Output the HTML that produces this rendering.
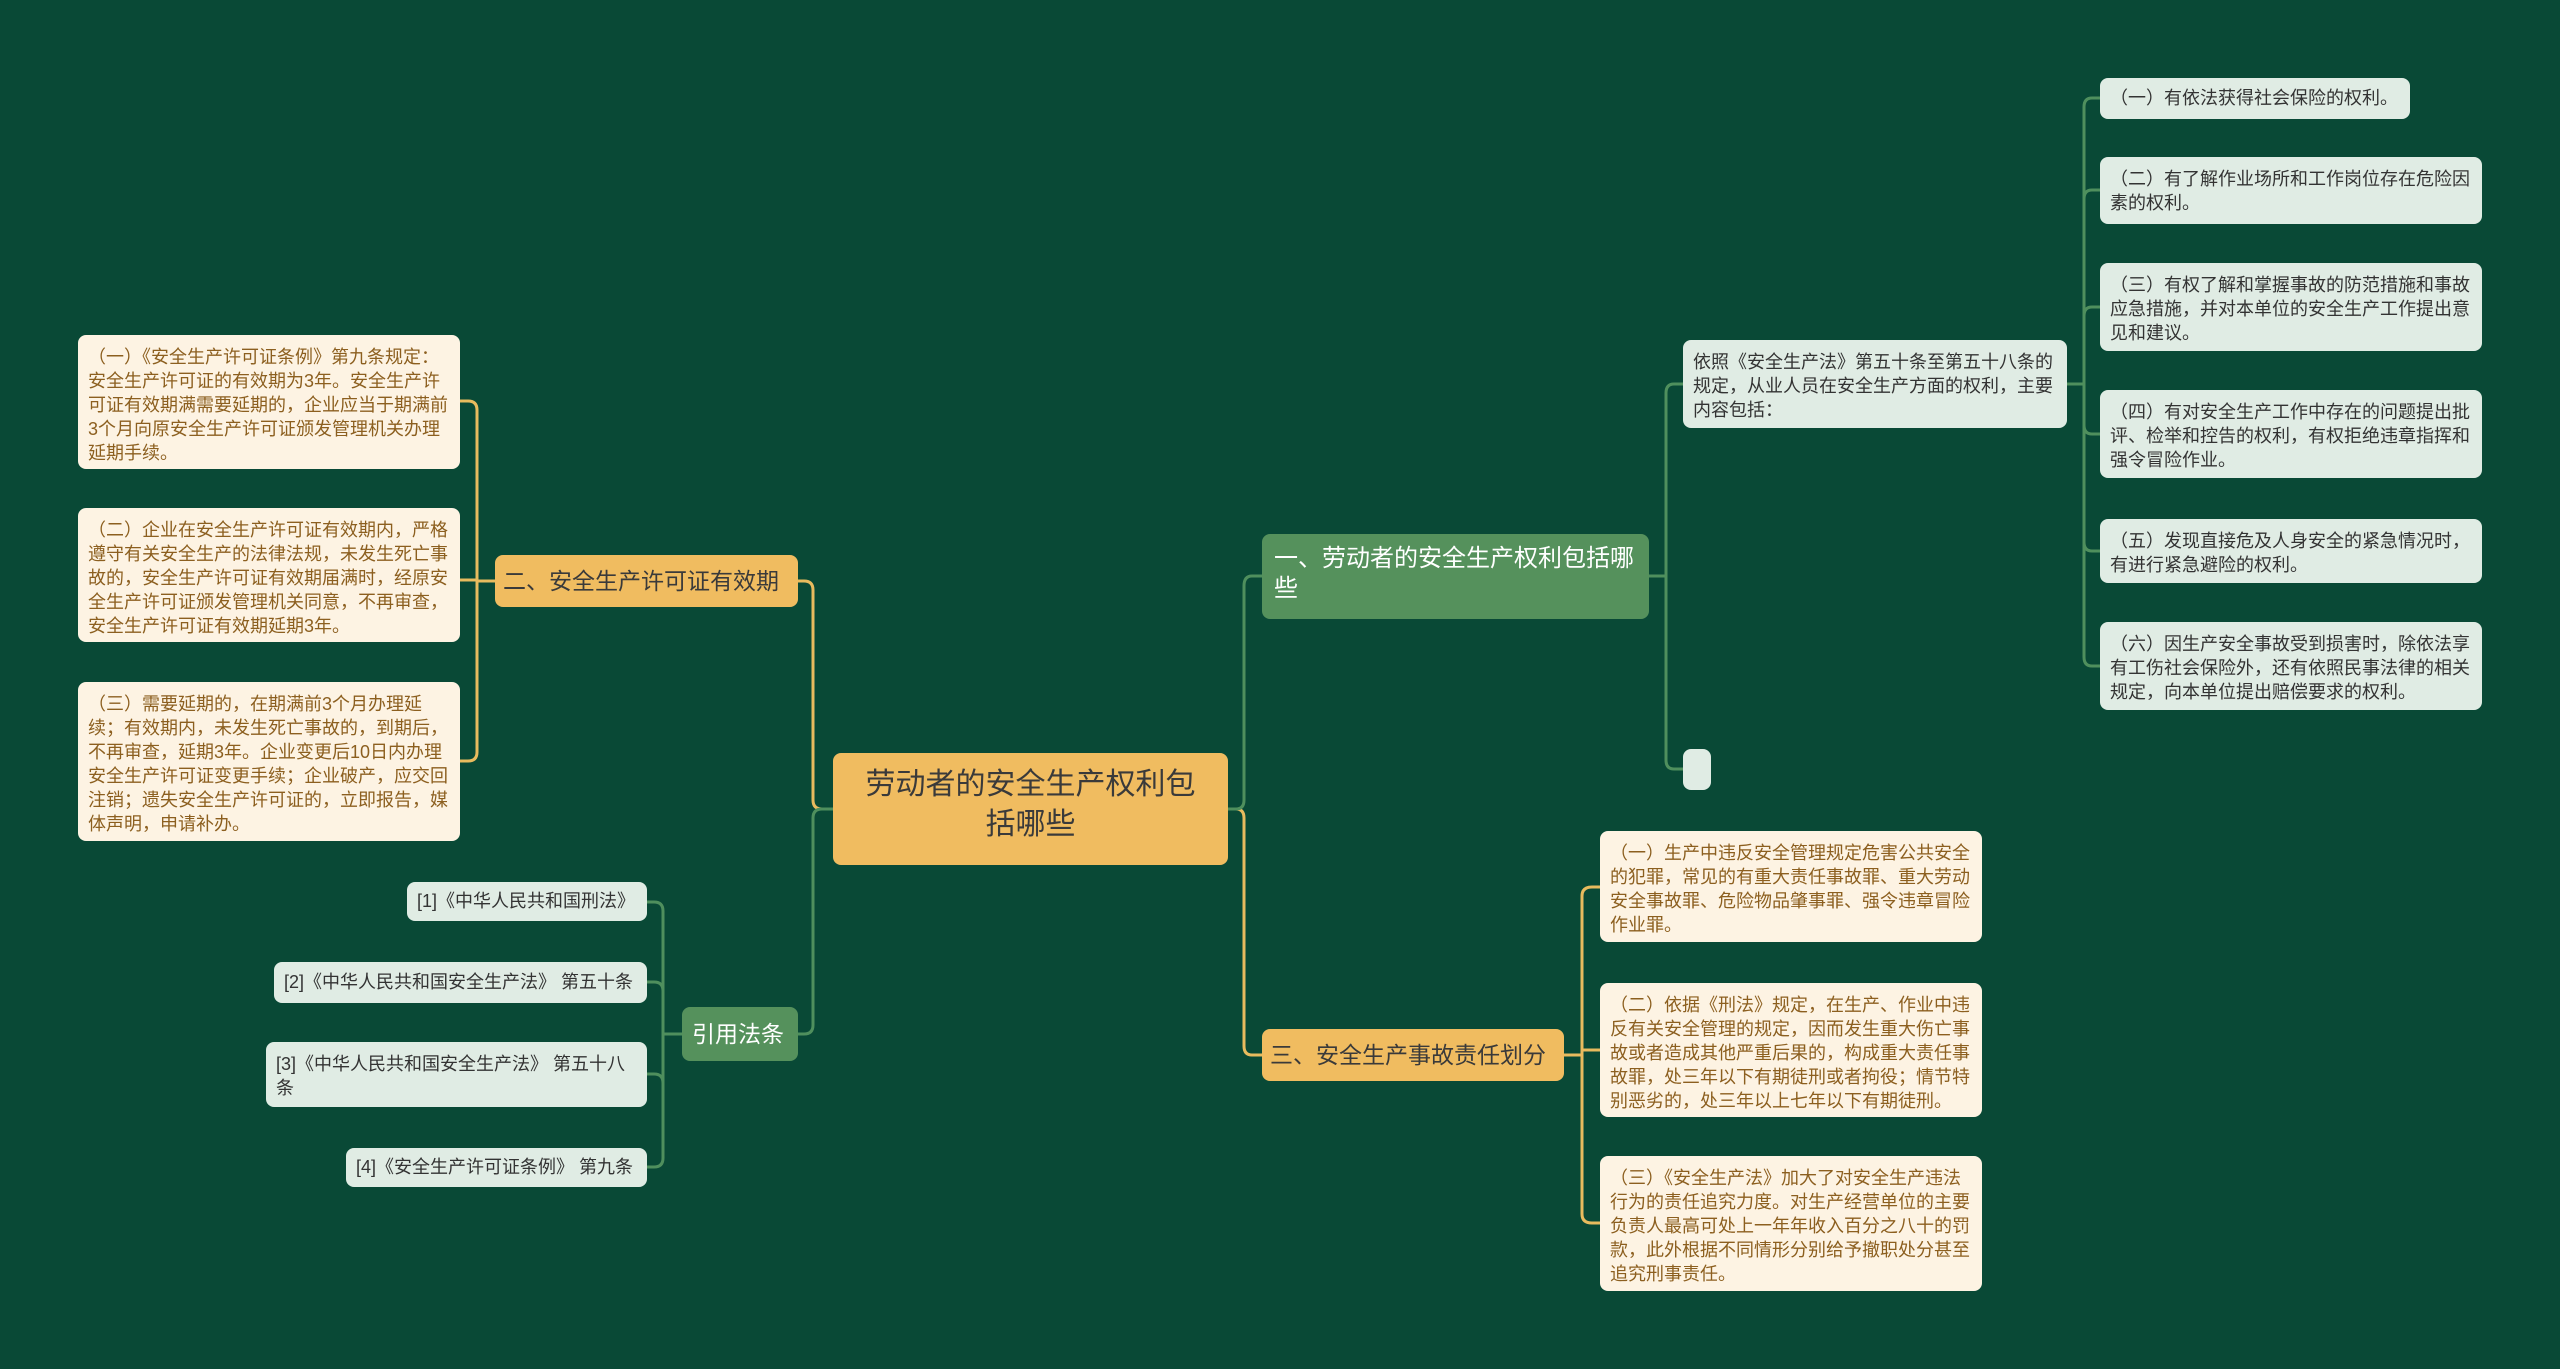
<!DOCTYPE html>
<html><head><meta charset="utf-8"><style>
body{margin:0;width:2560px;height:1369px;background:#094936;overflow:hidden;position:relative;font-family:"Liberation Sans","Noto Sans CJK SC",sans-serif}
.n{position:absolute;box-sizing:border-box;border-radius:8px;word-break:break-all}
.lf{font-size:18px;line-height:24px;padding:10px 10px}
.y{background:#fdf3e3;color:#8c5f1f}
.g{background:#e0ece4;color:#333}
.by{background:#f0bc60;color:#3a3a3a;font-size:24px;line-height:30px;padding:10px 12px}
.bg{background:#55915c;color:#fff;font-size:24px;line-height:30px;padding:10px 12px}
.nw{white-space:nowrap;padding:11px 8px;font-size:23px}
svg{position:absolute;left:0;top:0}
</style></head><body>
<svg width="2560" height="1369" fill="none" stroke-width="3">
<g stroke="#e8bb5e">
<path d="M1228 809 H1236 Q1244 809 1244 818 V1046 Q1244 1055 1252 1055 H1262"/>
<path d="M833 809 H822 Q813 809 813 800 V590 Q813 581 804 581 H798"/>
<path d="M1564 1055 H1582 M1582 1055 V896 Q1582 887 1592 887 H1600 M1582 1050 Q1582 1050 1592 1050 H1600 M1582 1055 V1214 Q1582 1223 1592 1223 H1600"/>
<path d="M495 581 H477 M477 581 V410 Q477 401 468 401 H460 M477 580 H460 M477 581 V752 Q477 761 468 761 H460"/>
</g>
<g stroke="#4f8f5d">
<path d="M1228 809 H1236 Q1244 809 1244 800 V586 Q1244 576 1252 576 H1262"/>
<path d="M833 809 H822 Q813 809 813 818 V1025 Q813 1034 804 1034 H798"/>
<path d="M1649 576 H1666 M1666 576 V393 Q1666 384 1674 384 H1683 M1666 576 V760 Q1666 769 1674 769 H1683"/>
<path d="M2067 384 H2084 M2084 384 V107 Q2084 98 2092 98 H2100 M2084 384 V199 Q2084 190 2092 190 H2100 M2084 384 V316 Q2084 307 2092 307 H2100 M2084 384 V425 Q2084 434 2092 434 H2100 M2084 384 V542 Q2084 551 2092 551 H2100 M2084 384 V657 Q2084 666 2092 666 H2100"/>
<path d="M682 1034 H663 M663 1034 V911 Q663 902 654 902 H647 M663 1034 V991 Q663 982 654 982 H647 M663 1034 V1083 Q663 1074 654 1074 H647 M663 1034 V1158 Q663 1167 654 1167 H647"/>
</g>
</svg>
<div class="n by" style="left:833px;top:753px;width:395px;height:112px;font-size:30px;line-height:40px;text-align:center;padding:12px 20px">劳动者的安全生产权利包括哪些</div>
<div class="n bg" style="left:1262px;top:534px;width:387px;height:85px">一、劳动者的安全生产权利包括哪些</div>
<div class="n by nw" style="left:1262px;top:1029px;width:302px;height:52px">三、安全生产事故责任划分</div>
<div class="n by nw" style="left:495px;top:555px;width:303px;height:52px">二、安全生产许可证有效期</div>
<div class="n bg nw" style="left:682px;top:1007px;width:116px;height:54px;padding:12px 10px">引用法条</div>
<div class="n lf g" style="left:1683px;top:340px;width:384px;height:88px">依照《安全生产法》第五十条至第五十八条的规定，从业人员在安全生产方面的权利，主要内容包括：</div>
<div class="n g" style="left:1683px;top:749px;width:28px;height:41px"></div>
<div class="n lf g" style="left:2100px;top:78px;width:310px;height:41px;padding-top:8px">（一）有依法获得社会保险的权利。</div>
<div class="n lf g" style="left:2100px;top:157px;width:382px;height:67px">（二）有了解作业场所和工作岗位存在危险因素的权利。</div>
<div class="n lf g" style="left:2100px;top:263px;width:382px;height:88px">（三）有权了解和掌握事故的防范措施和事故应急措施，并对本单位的安全生产工作提出意见和建议。</div>
<div class="n lf g" style="left:2100px;top:390px;width:382px;height:88px">（四）有对安全生产工作中存在的问题提出批评、检举和控告的权利，有权拒绝违章指挥和强令冒险作业。</div>
<div class="n lf g" style="left:2100px;top:519px;width:382px;height:64px">（五）发现直接危及人身安全的紧急情况时，有进行紧急避险的权利。</div>
<div class="n lf g" style="left:2100px;top:622px;width:382px;height:88px">（六）因生产安全事故受到损害时，除依法享有工伤社会保险外，还有依照民事法律的相关规定，向本单位提出赔偿要求的权利。</div>
<div class="n lf y" style="left:1600px;top:831px;width:382px;height:111px">（一）生产中违反安全管理规定危害公共安全的犯罪，常见的有重大责任事故罪、重大劳动安全事故罪、危险物品肇事罪、强令违章冒险作业罪。</div>
<div class="n lf y" style="left:1600px;top:983px;width:382px;height:134px">（二）依据《刑法》规定，在生产、作业中违反有关安全管理的规定，因而发生重大伤亡事故或者造成其他严重后果的，构成重大责任事故罪，处三年以下有期徒刑或者拘役；情节特别恶劣的，处三年以上七年以下有期徒刑。</div>
<div class="n lf y" style="left:1600px;top:1156px;width:382px;height:135px">（三）《安全生产法》加大了对安全生产违法行为的责任追究力度。对生产经营单位的主要负责人最高可处上一年年收入百分之八十的罚款，此外根据不同情形分别给予撤职处分甚至追究刑事责任。</div>
<div class="n lf y" style="left:78px;top:335px;width:382px;height:134px">（一）《安全生产许可证条例》第九条规定：安全生产许可证的有效期为3年。安全生产许可证有效期满需要延期的，企业应当于期满前3个月向原安全生产许可证颁发管理机关办理延期手续。</div>
<div class="n lf y" style="left:78px;top:508px;width:382px;height:134px">（二）企业在安全生产许可证有效期内，严格遵守有关安全生产的法律法规，未发生死亡事故的，安全生产许可证有效期届满时，经原安全生产许可证颁发管理机关同意，不再审查，安全生产许可证有效期延期3年。</div>
<div class="n lf y" style="left:78px;top:682px;width:382px;height:159px">（三）需要延期的，在期满前3个月办理延续；有效期内，未发生死亡事故的，到期后，不再审查，延期3年。企业变更后10日内办理安全生产许可证变更手续；企业破产，应交回注销；遗失安全生产许可证的，立即报告，媒体声明，申请补办。</div>
<div class="n lf g" style="left:407px;top:882px;width:240px;height:39px;padding-top:7px">[1]《中华人民共和国刑法》</div>
<div class="n lf g" style="left:274px;top:962px;width:373px;height:41px;padding-top:8px">[2]《中华人民共和国安全生产法》 第五十条</div>
<div class="n lf g" style="left:266px;top:1042px;width:381px;height:65px">[3]《中华人民共和国安全生产法》 第五十八条</div>
<div class="n lf g" style="left:346px;top:1148px;width:301px;height:39px;padding-top:7px">[4]《安全生产许可证条例》 第九条</div>
</body></html>
